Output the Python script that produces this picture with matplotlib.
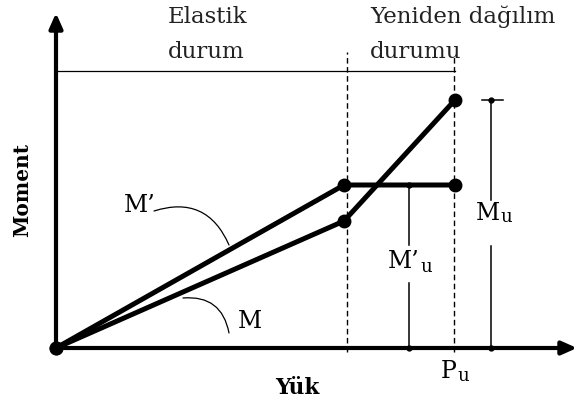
import matplotlib
matplotlib.use("Agg")
import matplotlib.pyplot as plt

# Data (load in arbitrary units, moment in arbitrary units)
load_pts = [0.0, 2.88, 3.99]
moment_Mp = [0.0, 1.63, 1.63]   # M'
moment_M = [0.0, 1.27, 2.48]    # M
P_elastic = 2.88
P_u = 3.99

FONT = "DejaVu Serif"

fig = plt.figure(figsize=(5.77, 4.07), dpi=100)
ax = fig.add_axes([0, 0, 1, 1])
ax.set_xlim(-0.56, 5.21)
ax.set_ylim(-0.59, 3.48)
ax.axis("off")

# axes arrows
ax.annotate("", xy=(0, 3.35), xytext=(0, -0.04),
            arrowprops=dict(arrowstyle="-|>,head_length=0.9,head_width=0.4", lw=3.0, color="black",
                            shrinkA=0, shrinkB=0))
ax.annotate("", xy=(5.21, 0), xytext=(-0.03, 0),
            arrowprops=dict(arrowstyle="-|>,head_length=0.9,head_width=0.4", lw=3.0, color="black",
                            shrinkA=0, shrinkB=0))

# top thin line
ax.plot([0, P_u], [2.77, 2.77], color="black", lw=0.9)

# dashed verticals
ax.plot([P_elastic + 0.03, P_elastic + 0.03], [-0.04, 2.96], color="black", lw=1.0, ls=(0, (4, 2.5)))
ax.plot([P_u - 0.01, P_u - 0.01], [-0.04, 2.93], color="black", lw=1.0, ls=(0, (4, 2.5)))

# data lines
ax.plot(load_pts, moment_Mp, color="black", lw=3.6, marker="o", ms=9, solid_capstyle="round")
ax.plot(load_pts, moment_M, color="black", lw=3.6, marker="o", ms=9, solid_capstyle="round")

# M'u dimension line
xmu = 3.53
ax.plot([xmu, xmu], [moment_Mp[2], 1.03], color="black", lw=1.1)
ax.plot([xmu, xmu], [0.65, 0], color="black", lw=1.1)
ax.plot([xmu], [moment_Mp[2]], marker="o", ms=3.5, color="black")
ax.plot([xmu], [0], marker="o", ms=3.5, color="black")
ax.text(3.64, 0.86, "M\u2019", fontsize=17, family=FONT, ha="right", va="center")
ax.text(3.64, 0.81, "u", fontsize=13, family=FONT, ha="left", va="center")

# Mu dimension line
xM = 4.35
ax.plot([xM, xM], [moment_M[2], 1.48], color="black", lw=1.1)
ax.plot([xM, xM], [1.02, 0], color="black", lw=1.1)
ax.plot([xM - 0.09, xM + 0.12], [moment_M[2], moment_M[2]], color="black", lw=1.1)
ax.plot([xM], [moment_M[2]], marker="o", ms=3.5, color="black")
ax.plot([xM], [0], marker="o", ms=3.5, color="black")
ax.text(4.44, 1.35, "M", fontsize=17, family=FONT, ha="right", va="center")
ax.text(4.44, 1.31, "u", fontsize=13, family=FONT, ha="left", va="center")

# Pu
ax.text(4.01, -0.24, "P", fontsize=17, family=FONT, ha="right", va="center")
ax.text(4.01, -0.28, "u", fontsize=13, family=FONT, ha="left", va="center")

# curve labels
ax.text(0.84, 1.43, "M\u2019", fontsize=17, family=FONT, ha="center", va="center")
ax.annotate("", xy=(1.73, 1.03), xytext=(0.98, 1.37),
            arrowprops=dict(arrowstyle="-", lw=0.9, color="black",
                            connectionstyle="arc3,rad=-0.45", shrinkA=0, shrinkB=0))
ax.text(1.94, 0.26, "M", fontsize=17, family=FONT, ha="center", va="center")
ax.annotate("", xy=(1.73, 0.15), xytext=(1.27, 0.5),
            arrowprops=dict(arrowstyle="-", lw=0.9, color="black",
                            connectionstyle="arc3,rad=-0.45", shrinkA=0, shrinkB=0))

# region labels
ax.text(1.12, 3.31, "Elastik", fontsize=16.5, family=FONT, ha="left", va="center", color="#222222")
ax.text(1.12, 2.96, "durum", fontsize=16.5, family=FONT, ha="left", va="center", color="#222222")
ax.text(3.14, 3.31, "Yeniden da\u011f\u0131l\u0131m", fontsize=16.5, family=FONT, ha="left",
        va="center", color="#222222")
ax.text(3.14, 2.96, "durumu", fontsize=16.5, family=FONT, ha="left", va="center", color="#222222")

# axis titles
ax.text(2.41, -0.40, "Y\u00fck", fontsize=15.5, family=FONT, fontweight="bold", ha="center", va="center")
ax.text(-0.34, 1.58, "Moment", fontsize=14.5, family=FONT, fontweight="bold", ha="center", va="center",
        rotation=90)

fig.savefig("out.png", dpi=100)
